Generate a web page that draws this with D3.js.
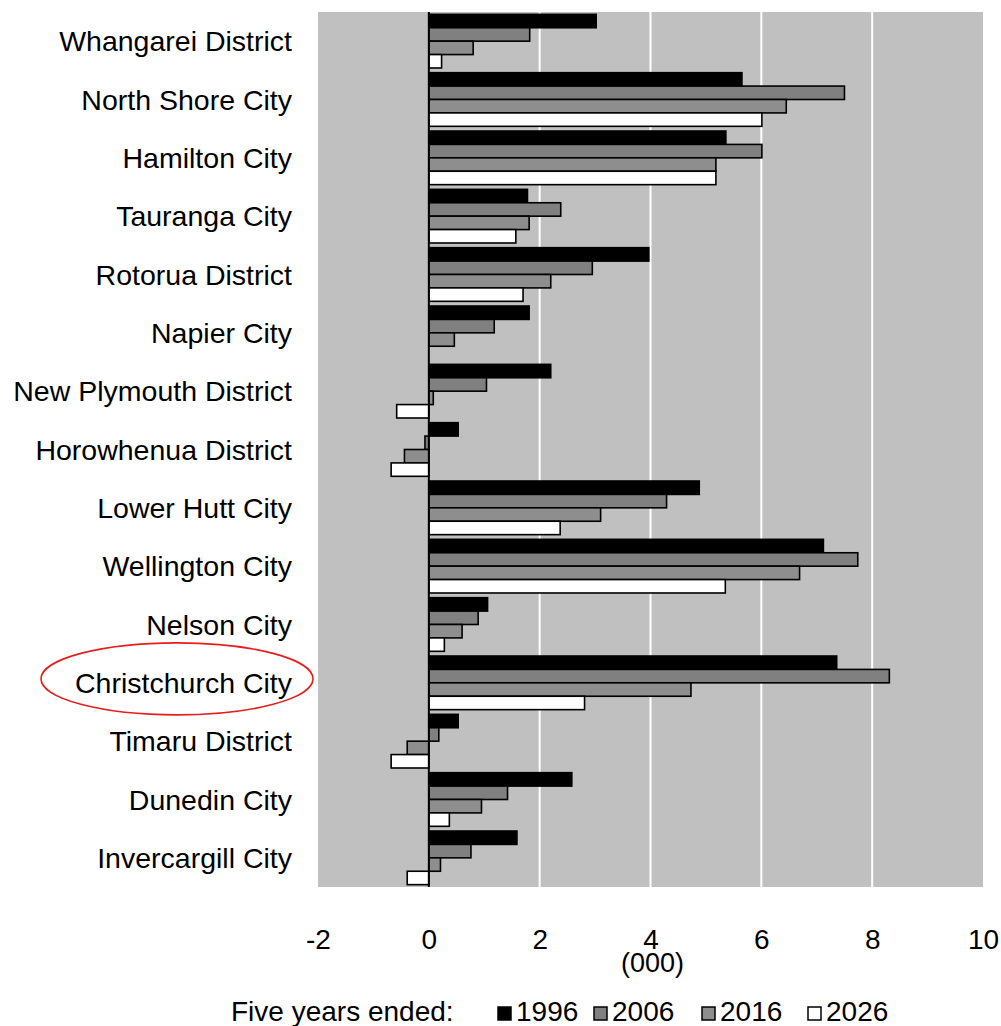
<!DOCTYPE html>
<html>
<head>
<meta charset="utf-8">
<script src="https://cdn.jsdelivr.net/npm/d3@7"></script>
<style>
  html, body { margin: 0; padding: 0; background: #fff; }
  svg { display: block; }
  text { font-family: "Liberation Sans", Arial, sans-serif; fill: #000; }
</style>
</head>
<body>
<svg id="chart" width="1001" height="1026"></svg>
<script>
// Population change by territorial authority, five years ended (thousands)
const categories = [
  "Whangarei District", "North Shore City", "Hamilton City", "Tauranga City",
  "Rotorua District", "Napier City", "New Plymouth District", "Horowhenua District",
  "Lower Hutt City", "Wellington City", "Nelson City", "Christchurch City",
  "Timaru District", "Dunedin City", "Invercargill City"
];
const seriesNames = ["1996", "2006", "2016", "2026"];
const values1996 = [3.02, 5.65, 5.36, 1.78, 3.97, 1.81, 2.20, 0.53, 4.88, 7.12, 1.06, 7.36, 0.53, 2.58, 1.59];
const values2006 = [1.82, 7.50, 6.01, 2.38, 2.95, 1.18, 1.04, -0.07, 4.29, 7.74, 0.89, 8.31, 0.18, 1.42, 0.76];
const values2016 = [0.80, 6.45, 5.18, 1.81, 2.20, 0.46, 0.08, -0.44, 3.10, 6.69, 0.60, 4.73, -0.39, 0.95, 0.21];
const values2026 = [0.23, 6.01, 5.18, 1.57, 1.70, 0.00, -0.58, -0.68, 2.37, 5.35, 0.28, 2.81, -0.68, 0.37, -0.39];
const xTicks = [-2, 0, 2, 4, 6, 8, 10];
const gridValues = [2, 4, 6, 8];
const unitLabel = "(000)";
const legendTitle = "Five years ended:";
const highlighted = "Christchurch City";

const seriesValues = [values1996, values2006, values2016, values2026];
const seriesFill = ["#000000", "#808080", "#8e8e8e", "#ffffff"];

const plot = { left: 318, right: 983, top: 12, bottom: 887 };
const svg = d3.select("#chart");

const x = d3.scaleLinear().domain([-2, 10]).range([plot.left, plot.right]);
const y = d3.scaleBand().domain(categories).range([plot.top, plot.bottom]).padding(0);
const inner = d3.scaleBand().domain(seriesNames)
  .range([0, y.bandwidth()]).paddingInner(0).paddingOuter(0.175);

// plot background
svg.append("rect")
  .attr("x", plot.left).attr("y", plot.top)
  .attr("width", plot.right - plot.left).attr("height", plot.bottom - plot.top)
  .attr("fill", "#c0c0c0");

// vertical gridlines
svg.append("g").selectAll("line").data(gridValues).join("line")
  .attr("x1", d => x(d)).attr("x2", d => x(d))
  .attr("y1", plot.top).attr("y2", plot.bottom)
  .attr("stroke", "#ffffff").attr("stroke-width", 2);

// bars
const rows = categories.map((c, i) => ({ c, vals: seriesNames.map((s, j) => ({ s, j, v: seriesValues[j][i] })) }));
const groups = svg.append("g").selectAll("g").data(rows).join("g")
  .attr("transform", d => `translate(0,${y(d.c)})`);
groups.selectAll("rect").data(d => d.vals).join("rect")
  .attr("x", d => x(Math.min(0, d.v)))
  .attr("y", d => inner(d.s))
  .attr("width", d => Math.abs(x(d.v) - x(0)))
  .attr("height", inner.bandwidth())
  .attr("fill", d => seriesFill[d.j])
  .attr("stroke", "#000")
  .attr("stroke-width", 1.6);

// zero axis
svg.append("line")
  .attr("x1", x(0)).attr("x2", x(0))
  .attr("y1", plot.top).attr("y2", plot.bottom)
  .attr("stroke", "#000").attr("stroke-width", 2);

// category labels
svg.append("g").selectAll("text").data(categories).join("text")
  .attr("x", 292)
  .attr("y", d => y(d) + y.bandwidth() / 2)
  .attr("dy", "0.36em")
  .attr("text-anchor", "end")
  .attr("font-size", 28.5)
  .text(d => d);

// highlight ring
svg.append("ellipse")
  .attr("cx", 177)
  .attr("cy", y(highlighted) + y.bandwidth() / 2 - 4)
  .attr("rx", 136).attr("ry", 36)
  .attr("fill", "none").attr("stroke", "#e41e1e").attr("stroke-width", 1.6);

// x axis
const xAxis = d3.axisBottom(x).tickValues(xTicks).tickSize(0).tickFormat(d => String(d));
const gx = svg.append("g").attr("transform", `translate(0,${plot.bottom})`).call(xAxis);
gx.select(".domain").remove();
gx.selectAll("text")
  .attr("y", 62).attr("dy", 0)
  .attr("font-size", 28)
  .attr("font-family", "Liberation Sans, Arial, sans-serif")
  .attr("fill", "#000");

svg.append("text")
  .attr("x", x(4) + 2).attr("y", 972)
  .attr("text-anchor", "middle")
  .attr("font-size", 27)
  .text(unitLabel);

// legend
const legend = svg.append("g");
const legendY = 1021;
legend.append("text")
  .attr("x", 231).attr("y", legendY)
  .attr("font-size", 28)
  .text(legendTitle);
const legendSwatchX = [498, 594, 702, 808];
seriesNames.forEach((s, j) => {
  const lx = legendSwatchX[j];
  legend.append("rect")
    .attr("x", lx).attr("y", legendY - 14)
    .attr("width", 13).attr("height", 13)
    .attr("fill", seriesFill[j]).attr("stroke", "#000").attr("stroke-width", 1.5);
  legend.append("text")
    .attr("x", lx + 18).attr("y", legendY)
    .attr("font-size", 28)
    .text(s);
});
</script>
</body>
</html>
